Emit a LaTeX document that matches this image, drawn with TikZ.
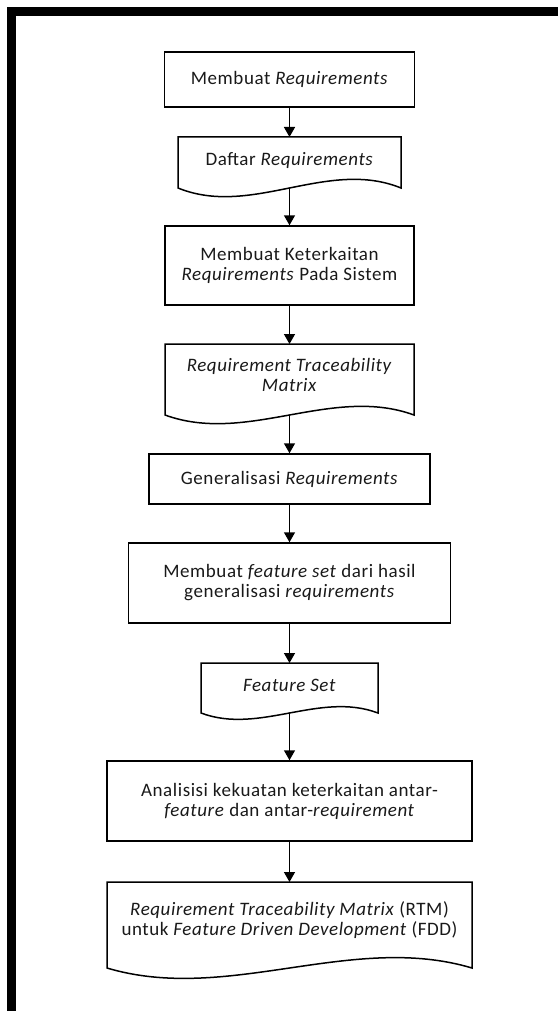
\documentclass[tikz,border=0pt]{standalone}
\usepackage{fontspec}
\setmainfont[LetterSpace=3]{Carlito}
\usetikzlibrary{arrows.meta,calc}
\newcommand{\docout}[2]{\draw[docline] (#1.south west) -- (#1.north west) -- (#1.north east) -- (#1.south east) .. controls ($(#1.south east)!0.33!(#1.south west)+(0,-#2)$) and ($(#1.south east)!0.67!(#1.south west)+(0,#2)$) .. (#1.south west) -- cycle;}
\begin{document}
\begin{tikzpicture}[x=1pt,y=-1pt,
  txt/.style={font=\fontsize{19}{20}\selectfont, align=center, text=black!90},
  procbox/.style={txt, draw=black, line width=1.5pt, inner sep=0pt},
  docbox/.style={inner sep=0pt, outer sep=0pt},
  docline/.style={draw=black, line width=1.5pt, line join=miter},
  flow/.style={draw=black, line width=1.5pt, -{Triangle[length=10pt,width=11pt]}},
]
\useasboundingbox (0,0) rectangle (558,1011);
\fill[black] (7,7) rectangle (558,16);
\fill[black] (7,7) rectangle (16,1011);

\node[procbox, minimum width=250pt, minimum height=55pt] (b1) at (289.5,79.5) {Membuat \textit{Requirements}};
\node[docbox, minimum width=223pt, minimum height=51pt, label={[txt,yshift=2.5pt]center:{Daftar \textit{Requirements}}}] (d1) at (289.5,162.5) {};
\docout{d1}{30}
\node[procbox, minimum width=249pt, minimum height=79pt] (b3) at (289.5,265.5) {Membuat Keterkaitan\\\textit{Requirements} Pada Sistem};
\node[docbox, minimum width=249pt, minimum height=71pt, label={[txt,yshift=4.5pt]center:{\textit{Requirement Traceability}\\\textit{Matrix}}}] (d2) at (289.5,379.5) {};
\docout{d2}{30}
\node[procbox, minimum width=281pt, minimum height=50pt] (b5) at (289.5,479) {Generalisasi \textit{Requirements}};
\node[procbox, minimum width=322pt, minimum height=80pt] (b6) at (289.5,583) {Membuat \textit{feature set} dari hasil\\generalisasi \textit{requirements}};
\node[docbox, minimum width=177pt, minimum height=50pt, label={[txt,yshift=3pt]center:{\textit{Feature Set}}}] (d3) at (289.5,688) {};
\docout{d3}{22}
\node[procbox, minimum width=365pt, minimum height=80pt] (b8) at (289.5,801) {Analisisi kekuatan keterkaitan antar-\\\textit{feature} dan antar-\textit{requirement}};
\node[docbox, minimum width=365pt, minimum height=86pt, label={[txt,yshift=4.5pt]center:{\textit{Requirement Traceability Matrix} (RTM)\\untuk \textit{Feature Driven Development} (FDD)}}] (d4) at (289.5,925) {};
\docout{d4}{36}

\draw[flow] (b1.south) -- (d1.north);
\draw[flow] (d1.south) -- (b3.north);
\draw[flow] (b3.south) -- (d2.north);
\draw[flow] (d2.south) -- (b5.north);
\draw[flow] (b5.south) -- (b6.north);
\draw[flow] (b6.south) -- (d3.north);
\draw[flow] (d3.south) -- (b8.north);
\draw[flow] (b8.south) -- (d4.north);
\end{tikzpicture}
\end{document}
